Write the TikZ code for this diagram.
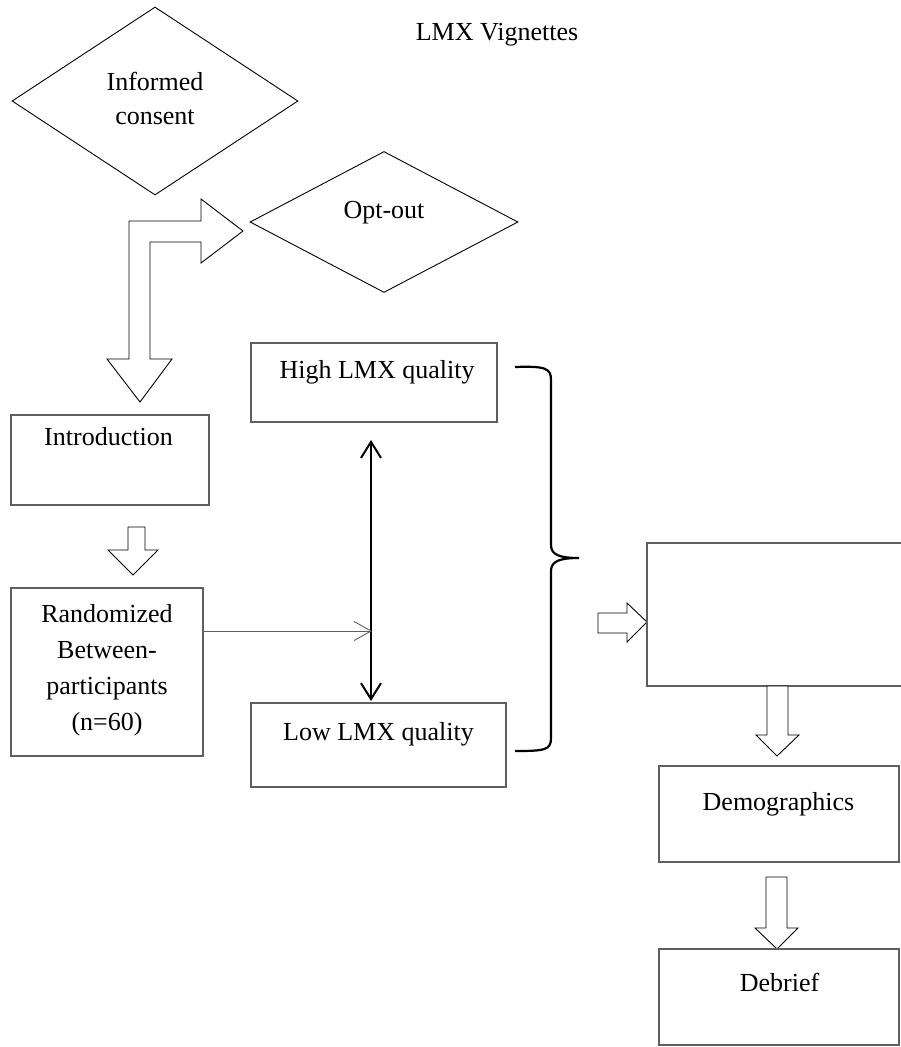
\documentclass[tikz,border=0pt]{standalone}
\usepackage{fontspec}
\setmainfont{Liberation Serif}
\usetikzlibrary{shapes.geometric,arrows.meta}
\definecolor{boxgray}{RGB}{95,95,95}
\begin{document}
\begin{tikzpicture}[x=1pt,y=-1pt,
  box/.style={draw=boxgray,line width=1.3pt,inner sep=0pt,rectangle},
  dia/.style={draw=black,line width=0.9pt,diamond,inner sep=0pt},
  txt/.style={font=\fontsize{26}{35}\selectfont,anchor=base,inner sep=0pt},
  blockarrow/.style={draw=black,line width=0.9pt,fill=white,line join=miter},
  thinarrow/.style={draw=boxgray,line width=0.9pt,-{Straight Barb[length=17pt,width=19pt]}},
  dblarrow/.style={draw=black,line width=2pt,{Straight Barb[length=16pt,width=20pt]}-{Straight Barb[length=16pt,width=20pt]}},
  bracestyle/.style={draw=black,line width=2.2pt}
]
\useasboundingbox (0,0) rectangle (900,1047);

% title
\node[txt] (title) at (497,40) {LMX Vignettes};

% diamonds
\node[dia,minimum width=286pt,minimum height=188pt] (consent) at (155,101) {};
\node[txt] (consentA) at (155,90) {Informed};
\node[txt] (consentB) at (155,124) {consent};
\node[dia,minimum width=268pt,minimum height=141pt] (optout) at (384,222) {};
\node[txt] (optoutT) at (384,218) {Opt-out};

% bent block arrow
\draw[blockarrow] (129,359) -- (129,221) -- (201,221) -- (201,199) -- (243,231)
  -- (201,263) -- (201,242) -- (150,242) -- (150,359) -- (172,359) -- (140,402)
  -- (107,359) -- cycle;

% left column boxes
\node[box,minimum width=198pt,minimum height=90pt] (intro) at (110,460) {};
\node[txt] (introT) at (108.5,445) {Introduction};

\draw[blockarrow] (128,527) -- (145,527) -- (145,550) -- (158,550) -- (133,575)
  -- (108,550) -- (128,550) -- cycle;

\node[box,minimum width=192pt,minimum height=168pt] (rand) at (107,672) {};
\node[txt] (randA) at (107,622) {Randomized};
\node[txt] (randB) at (107,658) {Between-};
\node[txt] (randC) at (107,694) {participants};
\node[txt] (randD) at (107,730) {(n=60)};

% LMX boxes
\node[box,minimum width=246pt,minimum height=79pt] (high) at (374,382.5) {};
\node[txt] (highT) at (377,378) {High LMX quality};
\node[box,minimum width=255pt,minimum height=84pt] (low) at (378.5,745) {};
\node[txt] (lowT) at (378.5,740) {Low LMX quality};

\coordinate (dtop) at (371,440);
\coordinate (dbot) at (371,701);
\coordinate (dmid) at (372,631);
\coordinate (rout) at (203,631);
\draw[dblarrow] (dtop) -- (dbot);
\draw[thinarrow] (rout) -- (dmid);

% brace
\draw[bracestyle] (515,367) .. controls (545,366) and (551,368) .. (551,380)
  -- (551,545) .. controls (551,555) and (560,558) .. (579,558)
  .. controls (560,558) and (551,561) .. (551,571)
  -- (551,738) .. controls (551,750) and (545,751) .. (515,751);

% right column
\draw[blockarrow] (598,613) -- (627,613) -- (627,603) -- (647,622) -- (627,642)
  -- (627,633) -- (598,633) -- cycle;
\node[box,minimum width=263pt,minimum height=143pt] (blank) at (778.5,614.5) {};

\draw[blockarrow] (767,686) -- (788,686) -- (788,735) -- (799,735) -- (777,756)
  -- (756,735) -- (767,735) -- cycle;

\node[box,minimum width=240pt,minimum height=96pt] (demo) at (779,814) {};
\node[txt] (demoT) at (778.5,810) {Demographics};

\draw[blockarrow] (766,877) -- (787,877) -- (787,928) -- (798,928) -- (777,949)
  -- (755,928) -- (766,928) -- cycle;

\node[box,minimum width=240pt,minimum height=96pt] (debrief) at (779,997) {};
\node[txt] (debriefT) at (779.5,991) {Debrief};
\end{tikzpicture}
\end{document}
